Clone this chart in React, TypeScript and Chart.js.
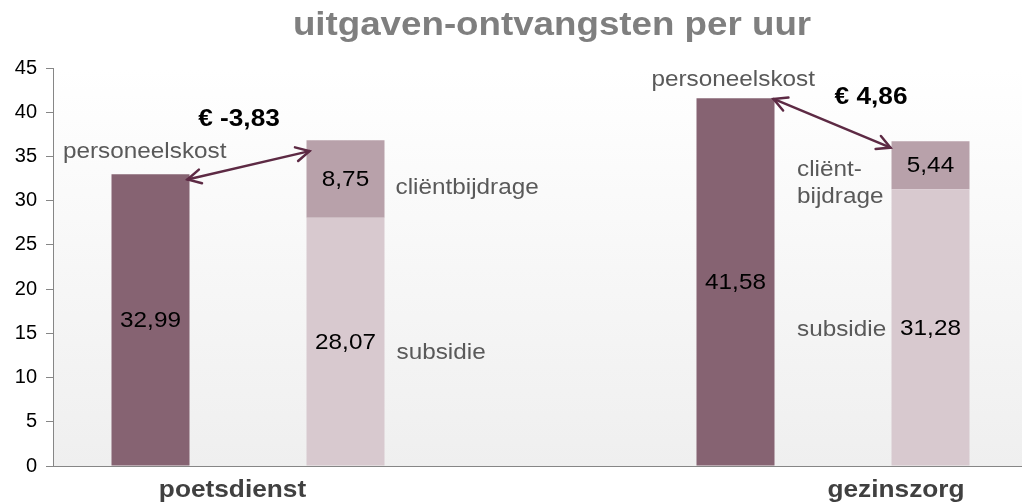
import React, { useEffect, useRef } from "react";
import { Chart, registerables } from "chart.js";

Chart.register(...registerables);

const categories = ["poetsdienst kost", "poetsdienst ontvangsten", "", "gezinszorg kost", "gezinszorg ontvangsten"];
const groupNames = ["poetsdienst", "gezinszorg"];
const personeelskost = [32.99, null, null, 41.58, null];
const subsidie = [null, 28.07, null, null, 31.28];
const clientbijdrage = [null, 8.75, null, null, 5.44];
const differenceLabels = ["€ -3,83", "€ 4,86"];
const yMin = 0;
const yMax = 45;
const yStep = 5;

const FONT = "'Liberation Sans', Arial, sans-serif";
const SX = 1.08;

function txt(ctx: CanvasRenderingContext2D, s: string, x: number, y: number, size: number, bold: boolean, color: string, align: CanvasTextAlign = "left", baseline: CanvasTextBaseline = "alphabetic") {
  ctx.save();
  ctx.font = `${bold ? "bold " : ""}${size}px ${FONT}`;
  ctx.fillStyle = color;
  ctx.textAlign = align;
  ctx.textBaseline = baseline;
  ctx.translate(x, y);
  ctx.scale(SX, 1);
  ctx.fillText(s, 0, 0);
  ctx.restore();
}

function arrow(ctx: CanvasRenderingContext2D, x1: number, y1: number, x2: number, y2: number) {
  const color = "#5d2a44";
  ctx.save();
  ctx.strokeStyle = color;
  ctx.lineWidth = 2.5;
  ctx.lineCap = "round";
  ctx.beginPath();
  ctx.moveTo(x1, y1);
  ctx.lineTo(x2, y2);
  ctx.stroke();
  const head = (tx: number, ty: number, fx: number, fy: number) => {
    const ang = Math.atan2(ty - fy, tx - fx);
    const L = 15;
    const spread = Math.PI / 6.5;
    ctx.beginPath();
    ctx.moveTo(tx - L * Math.cos(ang - spread), ty - L * Math.sin(ang - spread));
    ctx.lineTo(tx, ty);
    ctx.lineTo(tx - L * Math.cos(ang + spread), ty - L * Math.sin(ang + spread));
    ctx.stroke();
  };
  head(x1, y1, x2, y2);
  head(x2, y2, x1, y1);
  ctx.restore();
}

const bgPlugin = {
  id: "bgGradient",
  beforeDraw(chart: any) {
    const { ctx, chartArea: a } = chart;
    const g = ctx.createLinearGradient(0, a.top, 0, a.bottom);
    g.addColorStop(0, "#ffffff");
    g.addColorStop(1, "#efefef");
    ctx.save();
    ctx.fillStyle = g;
    ctx.fillRect(a.left, a.top, a.right - a.left, a.bottom - a.top);
    ctx.restore();
  },
};

const labelPlugin = {
  id: "labels",
  afterDatasetsDraw(chart: any) {
    const ctx = chart.ctx as CanvasRenderingContext2D;
    chart.data.datasets.forEach((ds: any, di: number) => {
      const meta = chart.getDatasetMeta(di);
      meta.data.forEach((el: any, i: number) => {
        const v = ds.data[i];
        if (v == null) return;
        const y = (el.y + el.base) / 2;
        txt(ctx, v.toFixed(2).replace(".", ","), el.x, y + 1, 22.5, false, "#000000", "center", "middle");
      });
    });
  },
  afterDraw(chart: any) {
    const ctx = chart.ctx as CanvasRenderingContext2D;
    const xs = chart.scales.x;
    const ys = chart.scales.y;
    const half = (xs.getPixelForValue(1) - xs.getPixelForValue(0)) * 0.4 / 2;
    const gray = "#595959";

    // title
    txt(ctx, "uitgaven-ontvangsten per uur", 552, 35, 34, true, "#7f7f7f", "center");

    // arrows
    arrow(ctx, xs.getPixelForValue(0) + half - 2, ys.getPixelForValue(32.4), xs.getPixelForValue(1) - half + 3, ys.getPixelForValue(35.6));
    arrow(ctx, xs.getPixelForValue(3) + half - 1, ys.getPixelForValue(41.5), xs.getPixelForValue(4) - half - 1, ys.getPixelForValue(36.0));

    // differences
    txt(ctx, differenceLabels[0], 239, 126, 24.3, true, "#000000", "center");
    txt(ctx, differenceLabels[1], 871, 103.5, 24.3, true, "#000000", "center");

    // series names
    txt(ctx, "personeelskost", 63, 158, 22.5, false, gray);
    txt(ctx, "cliëntbijdrage", 395.5, 194, 22.5, false, gray);
    txt(ctx, "subsidie", 396.5, 359, 22.5, false, gray);
    txt(ctx, "personeelskost", 651.5, 86, 22.5, false, gray);
    txt(ctx, "cliënt-", 797, 176, 22.5, false, gray);
    txt(ctx, "bijdrage", 797, 203, 22.5, false, gray);
    txt(ctx, "subsidie", 797, 336, 22.5, false, gray);

    // group names
    txt(ctx, groupNames[0], 232.5, 496.5, 24.3, true, "#404040", "center");
    txt(ctx, groupNames[1], 896, 496.5, 24.3, true, "#404040", "center");
  },
};

export default function App() {
  const ref = useRef<HTMLCanvasElement | null>(null);

  useEffect(() => {
    document.body.style.margin = "0";
    document.body.style.overflow = "hidden";
    const canvas = ref.current;
    if (!canvas) return;
    const chart = new Chart(canvas, {
      type: "bar",
      data: {
        labels: categories,
        datasets: [
          { label: "personeelskost", data: personeelskost, backgroundColor: "#866372", borderWidth: 0, categoryPercentage: 1, barPercentage: 0.4 },
          { label: "subsidie", data: subsidie, backgroundColor: "#d8c9cf", borderWidth: 0, categoryPercentage: 1, barPercentage: 0.4 },
          { label: "cliëntbijdrage", data: clientbijdrage, backgroundColor: "#b8a1aa", borderWidth: 0, categoryPercentage: 1, barPercentage: 0.4 },
        ] as any,
      },
      options: {
        animation: false,
        responsive: false,
        maintainAspectRatio: false,
        layout: { padding: { top: 68, bottom: 28, left: 0, right: 0 } },
        plugins: {
          legend: { display: false },
          title: { display: false },
          tooltip: { enabled: false },
        },
        scales: {
          x: {
            type: "category",
            stacked: true,
            offset: true,
            grid: { display: false },
            ticks: { display: false },
            border: { display: true, color: "#868686", width: 1 },
          },
          y: {
            stacked: true,
            min: yMin,
            max: yMax,
            ticks: { stepSize: yStep, color: "#000000", padding: 9, font: { size: 20, family: FONT } },
            grid: { drawOnChartArea: false, drawTicks: true, tickLength: 7, color: "#868686" },
            border: { display: true, color: "#868686", width: 1 },
            afterFit: (s: any) => { s.width = 53; },
          },
        },
      } as any,
      plugins: [bgPlugin, labelPlugin],
    });
    return () => chart.destroy();
  }, []);

  return (
    <div style={{ position: "fixed", left: 0, top: 0, width: 1028, height: 502 }}>
      <canvas ref={ref} width={1028} height={502} style={{ display: "block" }} />
    </div>
  );
}
